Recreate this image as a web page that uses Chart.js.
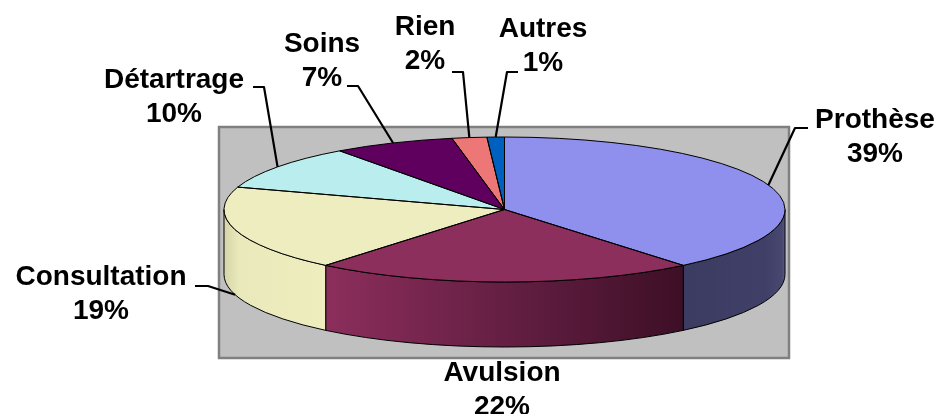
<!DOCTYPE html>
<html>
<head>
<meta charset="utf-8">
<title>Répartition des actes</title>
<style>
  html, body { margin: 0; padding: 0; background: #fff; overflow: hidden; }
  canvas { display: block; }
</style>
<script src="https://cdn.jsdelivr.net/npm/chart.js@4/dist/chart.umd.min.js"></script>
</head>
<body>
<canvas id="chart" width="938" height="414"></canvas>
<script>
// --- Data ---
const categories = ['Prothèse', 'Avulsion', 'Consultation', 'Détartrage', 'Soins', 'Rien', 'Autres'];
const values = [39, 22, 19, 10, 7, 2, 1];
const topColors = ['#8F8FEE', '#8C2F5D', '#EEEDBF', '#BAEDED', '#5F005F', '#ED7777', '#0060BF'];

// Side wall shading, left to right, only for slices that face the viewer
const wallShades = [
  [[0, '#3C3C62'], [0.8, '#3F3F68'], [0.97, '#47476F'], [1, '#5A5A90']],
  [[0, '#8C2E5C'], [0.5, '#651F43'], [1, '#3D0F26']],
  [[0, '#D6D5AA'], [0.15, '#EAE9BB'], [1, '#EEEDBE']]
];

// --- Layout (pixels on the page) ---
const radiusX = 280.5;
const radiusY = 72.5;
const depth = 65;
const squash = radiusY / radiusX;
const plotBox = { left: 219, top: 127, right: 789, bottom: 358 };

// text centre x and first baseline for each label
const labelSpots = [[875, 128], [502, 381], [101, 285], [174, 88], [322, 52], [425, 35], [543, 37]];
// leader line points going out from the slice edge, null means no leader
const leaderPoints = [
  [[795, 128], [808, 128]],
  null,
  [[208, 286], [195, 286]],
  [[264, 87], [253, 87]],
  [[358, 86], [347, 86]],
  [[463, 72], [452, 72]],
  [[507, 72], [518, 72]]
];
const total = values.reduce((a, b) => a + b, 0);

function frontRange(arc) {
  const a0 = Math.max(arc.startAngle, 0);
  const a1 = Math.min(arc.endAngle, Math.PI);
  return a1 > a0 ? [a0, a1] : null;
}

const pie3d = {
  id: 'pie3d',
  beforeDatasetDraw(chart, args) {
    const ctx = chart.ctx;
    const arcs = args.meta.data;
    const cx = arcs[0].x;
    const cy = arcs[0].y;

    // grey plot box
    ctx.save();
    ctx.fillStyle = '#C0C0C0';
    ctx.strokeStyle = '#808080';
    ctx.lineWidth = 2.5;
    ctx.fillRect(plotBox.left, plotBox.top, plotBox.right - plotBox.left, plotBox.bottom - plotBox.top);
    ctx.strokeRect(plotBox.left, plotBox.top, plotBox.right - plotBox.left, plotBox.bottom - plotBox.top);

    // side walls
    let shade = 0;
    arcs.forEach(arc => {
      const range = frontRange(arc);
      if (!range) return;
      const x0 = cx + radiusX * Math.cos(range[0]);
      const x1 = cx + radiusX * Math.cos(range[1]);
      const grad = ctx.createLinearGradient(Math.min(x0, x1), 0, Math.max(x0, x1), 0);
      wallShades[shade++].forEach(s => grad.addColorStop(s[0], s[1]));
      ctx.beginPath();
      ctx.ellipse(cx, cy, radiusX, radiusY, 0, range[0], range[1]);
      ctx.ellipse(cx, cy + depth, radiusX, radiusY, 0, range[1], range[0], true);
      ctx.closePath();
      ctx.fillStyle = grad;
      ctx.fill();
      ctx.strokeStyle = '#000';
      ctx.lineWidth = 1;
      ctx.stroke();
    });
    ctx.restore();

    // flatten the pie the library draws next
    ctx.save();
    ctx.translate(cx, cy);
    ctx.scale(1, squash);
    ctx.translate(-cx, -cy);
  },
  afterDatasetDraw(chart, args) {
    const ctx = chart.ctx;
    ctx.restore();

    const arcs = args.meta.data;
    const cx = arcs[0].x;
    const cy = arcs[0].y;

    // slice outlines, stroked here so the flattening does not thin them
    ctx.save();
    ctx.strokeStyle = '#000';
    ctx.lineWidth = 1;
    arcs.forEach(arc => {
      ctx.beginPath();
      ctx.moveTo(cx, cy);
      ctx.ellipse(cx, cy, radiusX, radiusY, 0, arc.startAngle, arc.endAngle);
      ctx.closePath();
      ctx.stroke();
    });

    // leader lines
    ctx.lineWidth = 2.2;
    ctx.lineJoin = 'round';
    arcs.forEach((arc, i) => {
      if (!leaderPoints[i]) return;
      const mid = (arc.startAngle + arc.endAngle) / 2;
      const onFront = categories[i] === 'Consultation';
      ctx.beginPath();
      ctx.moveTo(cx + radiusX * Math.cos(mid), cy + radiusY * Math.sin(mid) + (onFront ? depth : 0));
      leaderPoints[i].forEach(p => ctx.lineTo(p[0], p[1]));
      ctx.stroke();
    });

    // labels
    ctx.fillStyle = '#000';
    ctx.font = 'bold 28px "Liberation Sans", Arial, sans-serif';
    ctx.textAlign = 'center';
    ctx.textBaseline = 'alphabetic';
    categories.forEach((name, i) => {
      const pct = Math.round(values[i] / total * 100) + '%';
      ctx.fillText(name, labelSpots[i][0], labelSpots[i][1]);
      ctx.fillText(pct, labelSpots[i][0], labelSpots[i][1] + 34);
    });
    ctx.restore();
  }
};

new Chart(document.getElementById('chart').getContext('2d'), {
  type: 'pie',
  data: {
    labels: categories,
    datasets: [{
      data: values,
      backgroundColor: topColors,
      borderWidth: 0,
      clip: false
    }]
  },
  options: {
    responsive: false,
    animation: false,
    radius: radiusX,
    layout: { padding: { left: 71, top: 5 } },
    plugins: {
      legend: { display: false },
      title: { display: false },
      tooltip: { enabled: false }
    }
  },
  plugins: [pie3d]
});
</script>
</body>
</html>
